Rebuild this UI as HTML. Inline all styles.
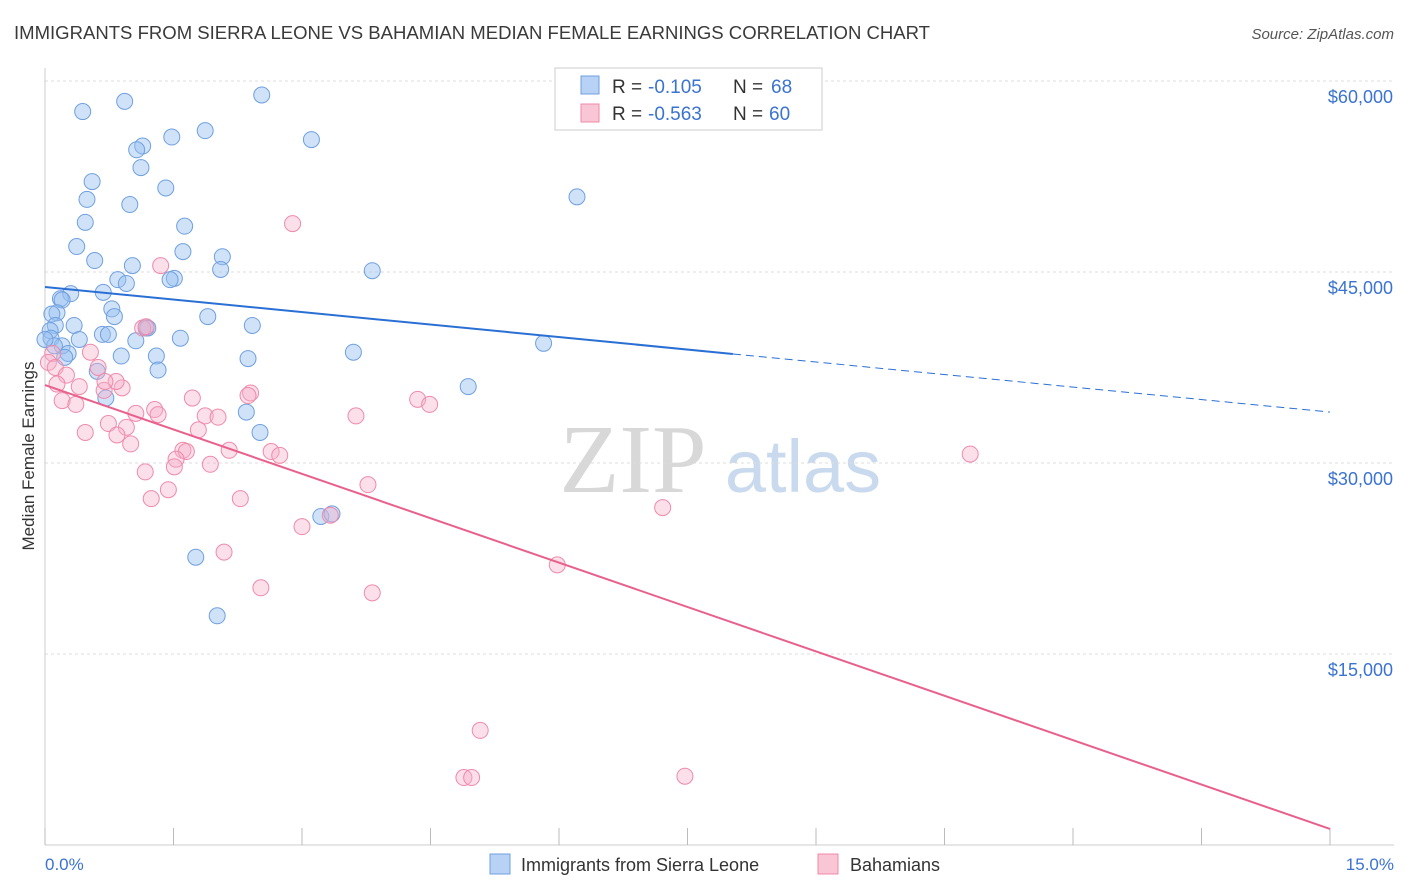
<!DOCTYPE html>
<html><head><meta charset="utf-8"><style>
body{margin:0;background:#fff;font-family:"Liberation Sans",sans-serif}
svg{display:block}
</style></head><body>
<svg id="chart" width="1406" height="892" xmlns="http://www.w3.org/2000/svg">
<text x="14" y="39" font-size="18" fill="#3a3a3a" textLength="916" lengthAdjust="spacingAndGlyphs">IMMIGRANTS FROM SIERRA LEONE VS BAHAMIAN MEDIAN FEMALE EARNINGS CORRELATION CHART</text>
<text x="1394" y="39" font-size="15" fill="#555" font-style="italic" text-anchor="end">Source: ZipAtlas.com</text>
<g>
<text x="633" y="492" font-size="98" fill="#d8d8d8" font-family="Liberation Serif,serif" text-anchor="middle">ZIP</text>
<text x="803" y="492" font-size="74" fill="#c9d9ee" text-anchor="middle">atlas</text>
</g>
<g id="grid"></g>
<line x1="45" y1="68" x2="45" y2="845" stroke="#ccc"/>
<line x1="45" y1="845" x2="1394" y2="845" stroke="#ccc"/>
<g id="xt"></g>
<g id="yl"></g>
<text x="45" y="870" font-size="17" fill="#3b73d1">0.0%</text>
<text x="1394" y="870" font-size="17" fill="#3b73d1" text-anchor="end">15.0%</text>
<text transform="translate(34,456) rotate(-90)" font-size="17" fill="#333" text-anchor="middle">Median Female Earnings</text>
<g id="pts"></g>
<g id="lines"></g>
<g>
<rect x="555" y="68" width="267" height="62" fill="#fff" stroke="#ccc"/>
<rect x="581" y="76" width="18" height="18" fill="#b7d2f5" stroke="#6fa0e0"/>
<rect x="581" y="104" width="18" height="18" fill="#f9c6d6" stroke="#f08aaa"/>
<text x="612" y="93" font-size="19" fill="#333">R =</text>
<text x="648" y="93" font-size="19" fill="#3b73d1">-0.105</text>
<text x="733" y="93" font-size="19" fill="#333">N =</text>
<text x="771" y="93" font-size="19" fill="#3b73d1">68</text>
<text x="612" y="120" font-size="19" fill="#333">R =</text>
<text x="648" y="120" font-size="19" fill="#3b73d1">-0.563</text>
<text x="733" y="120" font-size="19" fill="#333">N =</text>
<text x="769" y="120" font-size="19" fill="#3b73d1">60</text>
</g>
<g>
<rect x="490" y="854" width="20" height="20" fill="#b7d2f5" stroke="#6fa0e0"/>
<text x="521" y="871" font-size="18" fill="#333">Immigrants from Sierra Leone</text>
<rect x="818" y="854" width="20" height="20" fill="#f9c6d6" stroke="#f08aaa"/>
<text x="850" y="871" font-size="18" fill="#333">Bahamians</text>
</g>
</svg>
<script>
const yTicks=[15000,30000,45000,60000];
const yTickLabels=["$15,000","$30,000","$45,000","$60,000"];
const xTicks=[0,1.5,3,4.5,6,7.5,9,10.5,12,13.5,15];
const blueX=[0.44,0.93,2.53,1.87,1.48,3.11,1.14,1.07,1.12,0.55,1.41,0.49,0.99,0.47,1.63,0.37,1.61,0.58,2.07,1.02,2.05,3.82,0.85,0.95,1.51,1.46,0.68,0.30,0.18,0.20,0.78,0.81,0.14,0.08,1.90,0.12,0.34,2.42,1.18,1.20,0.06,0.67,0.74,0.07,1.58,1.06,0.40,0.20,0.11,3.60,5.82,0.27,0.23,1.30,0.89,2.37,1.32,0.61,4.94,0.71,2.35,2.51,3.22,3.35,1.76,2.01,6.21,0.00];
const blueY=[57600,58400,58900,56100,55600,55400,54900,54600,53200,52100,51600,50700,50300,48900,48600,47000,46600,45900,46200,45500,45200,45100,44400,44100,44500,44400,43400,43300,42900,42800,42100,41500,41800,41700,41500,40800,40800,40800,40600,40600,40400,40100,40100,39800,39800,39600,39700,39200,39200,38700,39400,38600,38300,38400,38400,38200,37300,37200,36000,35100,34000,32400,25800,26000,22600,18000,50900,39700];
const pinkX=[1.35,2.89,1.14,1.18,0.09,0.53,0.04,0.12,0.62,0.25,0.40,0.90,0.83,0.14,0.69,2.40,2.37,0.20,0.36,1.72,3.63,4.35,4.49,1.28,1.06,1.32,0.95,0.74,1.87,2.02,0.47,1.79,0.84,1.00,2.15,1.61,1.65,2.64,2.74,1.53,1.93,1.51,1.17,3.77,1.44,1.24,2.28,7.21,3.33,3.00,2.09,5.98,2.52,3.82,5.08,4.89,4.98,7.47,10.80,0.70];
const pinkY=[45500,48800,40600,40700,38600,38700,37900,37500,37500,36900,36000,35900,36400,36200,35700,35500,35300,34900,34600,35100,33700,35000,34600,34200,33900,33800,32800,33100,33700,33600,32400,32600,32200,31500,31000,31000,30900,30900,30600,30300,29900,29700,29300,28300,27900,27200,27200,26500,25900,25000,23000,22000,20200,19800,9000,5300,5300,5400,30700,36400];
const blueTrend=[43820,34000]; const blueSolidEnd=8.03;
const pinkTrend=[36120,1260];
const NS="http://www.w3.org/2000/svg";
const sx=v=>45+v*(1285/15);
const sy=v=>845-v*(191/15000);
function mk(tag,attrs,parent){const e=document.createElementNS(NS,tag);for(const k in attrs)e.setAttribute(k,attrs[k]);parent.appendChild(e);return e;}
const grid=document.getElementById('grid'),yl=document.getElementById('yl'),xt=document.getElementById('xt');
yTicks.forEach((t,i)=>{
 const g=mk('line',{x1:45,x2:1394,y1:sy(t),y2:sy(t),stroke:'#ddd','stroke-dasharray':'3,3'},grid);
 
 
 const l=mk('text',{x:1393,y:sy(t)+22,'font-size':18,fill:'#3b73d1','text-anchor':'end'},yl);
 l.textContent=yTickLabels[i];
 
 
});
xTicks.forEach(t=>{
 const e=mk('line',{x1:sx(t),x2:sx(t),y1:828,y2:845,stroke:'#bbb'},xt);
 
 
});
const pts=document.getElementById('pts');
blueX.forEach((x,i)=>{
 const c=mk('circle',{cx:sx(x),cy:sy(blueY[i]),r:8,fill:'rgba(150,190,240,0.45)',stroke:'#6fa0e0','stroke-width':1},pts);
 
 
});
pinkX.forEach((x,i)=>{
 const c=mk('circle',{cx:sx(x),cy:sy(pinkY[i]),r:8,fill:'rgba(245,175,200,0.4)',stroke:'#f08aaa','stroke-width':1},pts);
 
 
});
const lines=document.getElementById('lines');
const by=x=>blueTrend[0]+(blueTrend[1]-blueTrend[0])*x/15;
let l1=mk('line',{x1:sx(0),y1:sy(blueTrend[0]),x2:sx(blueSolidEnd),y2:sy(by(blueSolidEnd)),stroke:'#2a6fd4','stroke-width':2},lines);


let l2=mk('line',{x1:sx(blueSolidEnd),y1:sy(by(blueSolidEnd)),x2:sx(15),y2:sy(blueTrend[1]),stroke:'#2a6fd4','stroke-width':1,'stroke-dasharray':'8,5'},lines);


let l3=mk('line',{x1:sx(0),y1:sy(pinkTrend[0]),x2:sx(15),y2:sy(pinkTrend[1]),stroke:'#e8608c','stroke-width':2},lines);


</script>
</body></html>
